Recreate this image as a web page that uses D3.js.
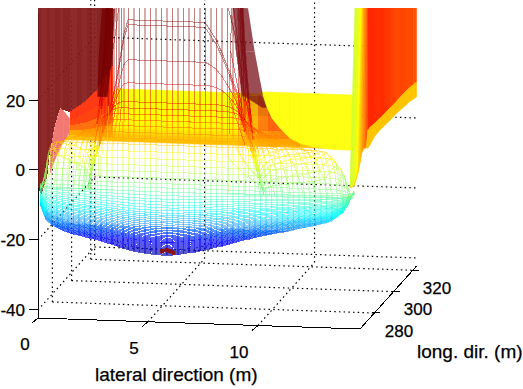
<!DOCTYPE html>
<html>
<head>
<meta charset="utf-8">
<script src="https://cdn.jsdelivr.net/npm/d3@7"></script>
<style>
html, body { margin: 0; background: #fff; }
text { font-family: "Liberation Sans", sans-serif; font-size: 17px; fill: #000; stroke: #000; stroke-width: 0.25; }
text.title { font-size: 19px; }
</style>
</head>
<body>
<svg id="chart" width="523" height="389"></svg>
<script>
// axis ticks
const lateralTicks = [0, 5, 10];
const longTicks = [280, 300, 320];
const heightTicks = [-40, -20, 0, 20];
const lateralRange = [0, 14.64];
const longRange = [265, 324];
const heightFloor = -42.3;
const heightTop = 33;

// mesh columns: lateral station at the foot and at the crest (m)
const columnBase = [0.1,0.35,0.6,0.85,1.1,1.35,1.6,1.85,2.1,2.35,2.6,2.85,3.1,3.35,3.6,3.85,4.1,4.35,4.6,4.85,5.1,5.35,5.6,5.85,6.1,6.35,6.6,6.85,7.1,7.35,7.6,7.85,8.1,8.35,8.6,8.85,9.1,9.35,9.6,9.85,10.1,10.35,10.6,10.85,11.1,11.35,11.6,11.85,12.1,12.35,12.6,12.85,13.1,13.35,13.6,13.85,14.1,14.35];
const columnTop = [2.27,2.38,2.49,2.6,2.71,2.82,2.93,3.04,3.15,3.25,3.36,3.47,3.58,3.69,3.8,3.91,4.1,4.35,4.6,4.85,5.1,5.35,5.6,5.85,6.1,6.35,6.6,6.85,7.1,7.35,7.6,7.85,8.1,8.35,8.6,8.85,9.1,9.18,9.24,9.29,9.35,9.4,9.45,9.51,9.56,9.62,9.67,9.73,9.78,9.84,9.89,9.95,10,10.05,10.11,10.16,10.22,10.27];
// rise of the bottom row above its lowest point, per column
const columnLow = [13.3,9.1,7.7,6.9,6.1,5.6,5.1,4.9,4.5,4.1,3.9,3.5,3,2.6,2.1,1.6,1.2,0.8,0.6,0.4,0.2,0.1,0,0,0.1,0.3,0.6,0.9,1.1,1.5,1.8,2.3,2.8,3.1,3.6,4.1,4.6,5.1,5.4,5.9,6.3,6.7,7,7.4,7.7,8,8.4,8.9,9.2,9.6,9.9,10.4,10.8,11.4,12.6,13.8,16.1,20.1];
// share of the shoulder drop each column takes on the upper rows
const columnHigh = [1,0.93,0.87,0.82,0.77,0.72,0.67,0.62,0.57,0.52,0.47,0.41,0.34,0.26,0.17,0.08,0,0,0,0,0,0,0,0,0,0,0,0,0,0,0,0.05,0.1,0.17,0.25,0.33,0.42,0.48,0.51,0.54,0.57,0.6,0.63,0.65,0.68,0.7,0.73,0.75,0.78,0.8,0.83,0.85,0.88,0.9,0.92,0.95,0.97,1];

// mesh rows: height at the centre line, then how each row bends
const rowHeight = [-23.1,-22.8,-22.5,-22.2,-21.9,-21.7,-21.4,-21.1,-20.8,-20.5,-20.2,-19.9,-19.6,-19.4,-19.1,-18.8,-18.5,-18.2,-17.8,-17.4,-16.9,-16.5,-16.1,-15.6,-15.1,-14.5,-13.9,-13.4,-12.8,-12.2,-11.7,-11.1,-10.4,-9.6,-8.8,-7.9,-7.1,-6.1,-5.1,-3.9,-2.7,-1.1,0.6,2.4,4.3,6.3,8.3,10,11.7,13.5,15.2,16.9,18.6,20.4,25.8,32.4,42.4,43.8,67.2,98.7,173,335.8];
const rowLow = [1,0.985,0.97,0.955,0.94,0.925,0.91,0.89,0.88,0.86,0.85,0.83,0.82,0.8,0.79,0.77,0.76,0.74,0.72,0.7,0.67,0.65,0.63,0.61,0.58,0.55,0.52,0.48,0.45,0.42,0.39,0.36,0.33,0.29,0.24,0.2,0.15,0.1,0.05,0,0,0,0,0,0,0,0,0,0,0,0,0,0,0,0,0,0,0,0,0,0,0];
const rowHigh = [0,0,0,0,0,0,0,0,0,0,0,0,0,0,0,0,0,0,0,0,0,0,0,0,0,0,0,0,0,0,0,0,0,0,0,0,0,0,0,0,-2.3,-3.9,-5.6,-7.4,-9.3,-11.3,-13.3,-15,-16.7,-18.5,-20.2,-21.9,-23.6,-25.4,-30.8,-37.4,-47.4,-48.8,-72.2,-103.7,-178,-340.8];
const rowShoulder = [40,40,40,40,40,40,40,40,40,40,40,40,40,40,40,40,40,40,40,40,40,40,40,40,40,40,40,40,40,40,40,40,40,40,40,40,40,40,40,40,40,40,40,40,40,40,40,14,10,8,6,5,4,3,1.8,1.3,1,1,1,1,1,1];
const rowSpread = [0,0,0,0,0,0,0,0,0,0,0,0,0,0,0,0,0,0,0,0,0,0,0,0,0,0,0,0,0,0,0,0,0,0,0,0,0,0,0,0,0.005,0.01,0.02,0.03,0.05,0.08,0.14,0.28,0.42,0.56,0.7,0.8,0.88,0.93,0.98,1,1,1,1,1.05,1.2,1.4];

// far sheet behind the mesh
const bandLong = [265,270,275,280,285,290,295,300,305,310,315,320,324];
const bandHeight = [9,8.7,8,7.2,6.6,6.2,6,5.9,5.8,5.7,5.6,5.5,5.4];
const bandLeft = [1.2,1.2,1.2,1.2,1.15,1.15,1.1,1.1,1.1,1.05,1.05,1,1];
const bandRight = [14.5,14.3,14.1,13.9,13.7,13.5,13.3,13,12.8,12.6,12.4,12.2,12];

// left wall stripes
const westLateral = [0,0.14,0.41,0.55,0.77,1,1.14,1.45,1.77,2,2.23,2.45,2.68,2.85,3.05,3.23,3.41];
const westFoot = [-4.9,-7.1,-2.2,5.8,13,17.9,17.4,16.9,18.4,19.4,20.5,22,23.4,25.3,27.2,29,30.7];

// red flare under the left wall
const flareLateral = [1.45,1.77,2,2.23,2.45,2.68,2.85,3.05,3.23,3.41];
const flareTop = [16.9,18.4,19.4,20.5,22,23.4,25.3,27.2,29,30.7];
const flareFoot = [10.5,10.2,10.1,10,10,10,10,10,10,10];
const flareLevels = [0, 0.35, 0.6, 0.8, 1];
const flareColors = ["#ff3a14", "#ff4412", "#ff7010", "#ffa800", "#ffd400"];
const ridgeLateral = [0.55,0.77,1,1.14,1.45];
const ridgeTop = [5.8,13,17.9,17.4,15];
const ridgeFoot = [-1,3,6,8,11];

// orange fan right of the centre
const fanLateral = [9.09,9.55,10,10.45,11,11.45,11.91];
const fanTop = [23.4,23.5,23.6,23.7,23.8,23.9,24];
const fanFoot = [8.5,8.6,8.7,8.8,8.9,9,9.1];
const fanLevels = [0, 0.4, 0.7, 0.85, 1];
const fanColors = ["#e03a10", "#ff4a10", "#ff7a08", "#ffa000", "#ffc400"];
const fanAlpha = [0.15, 0.4, 0.7, 0.85, 0.9, 0.9];

// dark bundles of columns on both shoulders: height, inner and outer edge
const rightBundleHeight = [48.3, 36, 23.4, 20];
const rightBundleInner = [8.86, 9, 9.27, 10.2];
const rightBundleOuter = [9.55, 9.85, 10.23, 10.4];
const leftBundleHeight = [46.8, 32, 21.5];
const leftBundleInner = [3.5, 3.35, 3.15];
const leftBundleOuter = [2.9, 2.75, 2.7];

// yellow apron right of the mesh
const apronLateral = [10.14,10.36,10.64,11,11.45,11.91,12.59,13.27,13.95,14.36];
const apronFoot = [23.6,20.8,17.1,14.3,11.6,10.2,9.2,8.8,8.7,8.8];
const apronTop = 24.5;

// right wall stripes
const eastLateral = [14.18,14.27,14.36,14.45,14.55,14.64,14.64,14.64,14.64,14.64,14.64,14.64,14.64,14.64,14.64,14.64,14.64,14.64,14.64,14.64,14.64];
const eastLong = [265,265,265,265,265,265,267,269.2,271.2,273.3,275.4,280.6,285.8,291,296.3,301.5,306.7,311.9,317.1,320.5,324];
const eastFoot = [-1.9,-1.8,-1.5,0.2,2.5,5.4,7.6,8.1,7.5,6.9,7.1,8.1,8.2,8,7.8,7.7,7.5,7.1,6.9,6.4,6];
const eastApron = [-1.9,-1.8,-1.5,0.2,2.5,5.4,7.6,8.1,7.5,12,12.2,11.8,11.6,11.4,11.3,11.1,11.2,11.1,10.9,10.6,10.3];
const eastLean = [0.32,0.32,0.3,0.28,0.25,0.2,0.15,0.1,0.05,0,0,0,0,0,0,0,0,0,0,0,0];
const eastLevel = [3,3.5,4.5,6,8,9.5,11,12.5,14,16,16.2,15.8,16,15.4,15,14.6,14.8,14.4,14.6,14.2,14.4];

// the small dark patch at the lowest point
const peakLateral = [5.65,5.85,6,6.15];
const peakHeight = [-22,-21.6,-21.9,-22.3];

// projection of the box
const lateralX = d3.scaleLinear().domain(lateralRange).range([38, 360]);
const lateralY = d3.scaleLinear().domain(lateralRange).range([0, 11]);
const longX = d3.scaleLinear().domain(longRange).range([0, 56.6]);
const longY = d3.scaleLinear().domain(longRange).range([0, -63]);
const heightY = d3.scaleLinear().domain([heightFloor, 20]).range([318, 100]);

const px = (x, y) => lateralX(x) + longX(y);
const py = (x, y, z) => heightY(z) + lateralY(x) + longY(y);
const y0 = longRange[0], y1 = longRange[1];
const x0 = lateralRange[0], x1 = lateralRange[1];

const jet = d3.scaleLinear()
	.domain([-24, -19, -10, -3, 6, 18, 35])
	.range(["#000090", "#0000ff", "#00ffff", "#80ff80", "#ffff00", "#ff0000", "#800000"])
	.clamp(true);

const svg = d3.select('#chart');
svg.append('defs').append('clipPath').attr('id', 'top-clip')
	.append('rect').attr('x', 0).attr('y', 8).attr('width', 523).attr('height', 381);

const quad = (a, b, c, d) => 'M' + [a, b, c, d].map(p => p.join(',')).join('L') + 'Z';

// dotted grid
const gridData = [];
const seg = (a, b) => gridData.push([px(a[0], a[1]), py(a[0], a[1], a[2]), px(b[0], b[1]), py(b[0], b[1], b[2])]);
lateralTicks.slice(1).forEach(t => {
	seg([t, y0, heightFloor], [t, y1, heightFloor]);
	seg([t, y1, heightFloor], [t, y1, heightTop]);
});
longTicks.forEach(t => {
	seg([x0, t, heightFloor], [x1, t, heightFloor]);
	seg([x0, t, heightFloor], [x0, t, heightTop]);
});
heightTicks.forEach(t => {
	seg([x0, y0, t], [x0, y1, t]);
	seg([x0, y1, t], [x1, y1, t]);
});
seg([x0, y1, heightFloor], [x0, y1, heightTop]);

svg.append('g').selectAll('line').data(gridData).join('line')
	.attr('x1', d => d[0]).attr('y1', d => d[1]).attr('x2', d => d[2]).attr('y2', d => d[3])
	.attr('stroke', '#000').attr('stroke-width', 1.2).attr('stroke-dasharray', '1.5,3.2');

// solid axes
const axisData = [];
const axisSeg = (a, b, c, d) => axisData.push([a, b, c, d]);
axisSeg(px(x0, y0), py(x0, y0, heightFloor), px(x1, y0), py(x1, y0, heightFloor));
axisSeg(px(x1, y0), py(x1, y0, heightFloor), px(x1, y1), py(x1, y1, heightFloor));
axisSeg(px(x0, y0), py(x0, y0, heightFloor), px(x0, y0), py(x0, y0, 45));
heightTicks.forEach(t => axisSeg(29, py(x0, y0, t), 38, py(x0, y0, t)));
lateralTicks.forEach(t => {
	const a = px(t, y0), b = py(t, y0, heightFloor);
	axisSeg(a, b, a - 6, b + 5);
});
longTicks.forEach(t => {
	const a = px(x1, t), b = py(x1, t, heightFloor);
	axisSeg(a - 2, b, a + 6, b);
});
svg.append('g').selectAll('line').data(axisData).join('line')
	.attr('x1', d => d[0]).attr('y1', d => d[1]).attr('x2', d => d[2]).attr('y2', d => d[3])
	.attr('stroke', '#000').attr('stroke-width', 1).attr('shape-rendering', 'crispEdges');

const plot = svg.append('g').attr('clip-path', 'url(#top-clip)');

// far sheet
const bandCells = [];
d3.range(bandLong.length - 1).forEach(r => {
	d3.range(14).forEach(i => {
		const u0 = i / 14, u1 = (i + 1) / 14;
		const at = (k, u) => {
			const x = bandLeft[k] + u * (bandRight[k] - bandLeft[k]);
			return [px(x, bandLong[k]), py(x, bandLong[k], bandHeight[k])];
		};
		bandCells.push({ d: quad(at(r, u0), at(r, u1), at(r + 1, u1), at(r + 1, u0)), z: bandHeight[r] });
	});
});
plot.append('g').selectAll('path').data(bandCells).join('path')
	.attr('d', d => d.d).attr('fill', d => jet(d.z)).attr('stroke', d => jet(d.z)).attr('stroke-width', 0.6);

// stacked colour strips between a top and a foot profile
const strips = (stations, top, foot, levels, colors, alpha) => {
	const cells = [];
	d3.range(stations.length - 1).forEach(i => {
		d3.range(levels.length - 1).forEach(k => {
			const h = (j, t) => top[j] + t * (foot[j] - top[j]);
			const pt = (j, t) => [px(stations[j], y0), py(stations[j], y0, h(j, t))];
			cells.push({
				d: quad(pt(i, levels[k]), pt(i + 1, levels[k]), pt(i + 1, levels[k + 1]), pt(i, levels[k + 1])),
				c: colors[k],
				o: alpha ? alpha[i] : 1
			});
		});
	});
	plot.append('g').selectAll('path').data(cells).join('path')
		.attr('d', d => d.d).attr('fill', d => d.c).attr('fill-opacity', d => d.o).attr('shape-rendering', 'crispEdges');
};
strips(flareLateral, flareTop, flareFoot, flareLevels, flareColors);
strips(fanLateral, fanTop, fanFoot, fanLevels, fanColors, fanAlpha);

// salmon ridge
plot.append('g').selectAll('path').data(d3.range(ridgeLateral.length - 1)).join('path')
	.attr('d', i => quad(
		[px(ridgeLateral[i], y0), py(ridgeLateral[i], y0, ridgeTop[i])],
		[px(ridgeLateral[i + 1], y0), py(ridgeLateral[i + 1], y0, ridgeTop[i + 1])],
		[px(ridgeLateral[i + 1], y0), py(ridgeLateral[i + 1], y0, ridgeFoot[i + 1])],
		[px(ridgeLateral[i], y0), py(ridgeLateral[i], y0, ridgeFoot[i])]))
	.attr('fill', '#f0605a').attr('fill-opacity', 0.85);

// left wall
plot.append('g').selectAll('path').data(d3.range(westLateral.length - 1)).join('path')
	.attr('d', i => quad(
		[px(westLateral[i], y0), py(westLateral[i], y0, westFoot[i])],
		[px(westLateral[i + 1], y0), py(westLateral[i + 1], y0, westFoot[i + 1])],
		[px(westLateral[i + 1], y0), py(westLateral[i + 1], y0, 70)],
		[px(westLateral[i], y0), py(westLateral[i], y0, 70)]))
	.attr('fill', i => i % 2 ? '#871a1a' : '#7e1414').attr('fill-opacity', 0.93)
	.attr('shape-rendering', 'crispEdges');

// wire mesh
const meshSegs = [];
const node = (r, c) => {
	const x = columnBase[c] + rowSpread[r] * (columnTop[c] - columnBase[c]);
	const z = rowHeight[r] + rowLow[r] * columnLow[c] + rowHigh[r] * Math.pow(columnHigh[c], rowShoulder[r]);
	return { sx: px(x, y0), sy: py(x, y0, z), z };
};
const deep = z => z < -15;
rowHeight.forEach((_, r) => {
	columnBase.forEach((_, c) => {
		const a = node(r, c);
		if (c < columnBase.length - 1) {
			const b = node(r, c + 1);
			const z = (a.z + b.z) / 2;
			meshSegs.push({ a, b, z, w: 1, o: deep(z) ? 0.65 : 0.45 });
		}
		if (r < rowHeight.length - 1) {
			const b = node(r + 1, c);
			const z = (a.z + b.z) / 2;
			meshSegs.push({ a, b, z, w: c % 2 ? 2 : 1, o: deep(z) ? 0.5 : (c % 2 ? 0.32 : 0.5) });
		}
	});
});
plot.append('g').attr('shape-rendering', 'crispEdges').selectAll('line').data(meshSegs).join('line')
	.attr('x1', d => d.a.sx).attr('y1', d => d.a.sy).attr('x2', d => d.b.sx).attr('y2', d => d.b.sy)
	.attr('stroke', d => jet(d.z)).attr('stroke-width', d => d.w).attr('stroke-opacity', d => d.o);

// yellow apron
plot.append('g').selectAll('path').data(d3.range(apronLateral.length - 1)).join('path')
	.attr('d', i => quad(
		[px(apronLateral[i], y0), py(apronLateral[i], y0, apronFoot[i])],
		[px(apronLateral[i + 1], y0), py(apronLateral[i + 1], y0, apronFoot[i + 1])],
		[px(apronLateral[i + 1], y0), py(apronLateral[i + 1], y0, apronTop)],
		[px(apronLateral[i], y0), py(apronLateral[i], y0, apronTop)]))
	.attr('fill', '#ffff14').attr('stroke', '#ffff14').attr('stroke-width', 0.6);

// dark bundles
const bundle = (heights, inner, outer, color, alpha) => {
	plot.append('g').selectAll('path').data(d3.range(heights.length - 1)).join('path')
		.attr('d', i => quad(
			[px(inner[i], y0), py(inner[i], y0, heights[i])],
			[px(outer[i], y0), py(outer[i], y0, heights[i])],
			[px(outer[i + 1], y0), py(outer[i + 1], y0, heights[i + 1])],
			[px(inner[i + 1], y0), py(inner[i + 1], y0, heights[i + 1])]))
		.attr('fill', color).attr('fill-opacity', alpha);
};
bundle(rightBundleHeight, rightBundleInner, rightBundleOuter, '#7a1018', 0.75);
bundle(leftBundleHeight, leftBundleInner, leftBundleOuter, '#740000', 0.8);

// right wall
const eastCells = [];
d3.range(eastLateral.length - 1).forEach(i => {
	const pt = (j, z, lean) => [px(eastLateral[j] + lean, eastLong[j]), py(eastLateral[j] + lean, eastLong[j], z)];
	eastCells.push({
		d: quad(pt(i, eastApron[i], 0), pt(i + 1, eastApron[i + 1], 0), pt(i + 1, 70, eastLean[i + 1]), pt(i, 70, eastLean[i])),
		c: jet(eastLevel[i])
	});
	eastCells.push({
		d: quad(pt(i, eastFoot[i], 0), pt(i + 1, eastFoot[i + 1], 0), pt(i + 1, eastApron[i + 1], 0), pt(i, eastApron[i], 0)),
		c: '#ffc400'
	});
});
plot.append('g').selectAll('path').data(eastCells).join('path')
	.attr('d', d => d.d).attr('fill', d => d.c).attr('stroke', d => d.c).attr('stroke-width', 0.5);

// dark patch at the lowest point
plot.append('g').selectAll('circle').data(peakLateral).join('circle')
	.attr('cx', d => px(d, y0)).attr('cy', (d, i) => py(d, y0, peakHeight[i]))
	.attr('r', 2.4).attr('fill', '#8b1010');

// tick labels
const labels = svg.append('g');
labels.selectAll('.z').data(heightTicks).join('text').attr('class', 'z')
	.attr('x', 25).attr('y', d => py(x0, y0, d) + 6.5).attr('text-anchor', 'end').text(d => d);
const lateralLabelPos = [[25, 350], [134, 354], [239, 358]];
labels.selectAll('.x').data(lateralTicks).join('text').attr('class', 'x')
	.attr('x', (d, i) => lateralLabelPos[i][0]).attr('y', (d, i) => lateralLabelPos[i][1])
	.attr('text-anchor', 'middle').text(d => d);
const longLabelPos = [[399, 337], [418, 315], [437, 294]];
labels.selectAll('.y').data(longTicks).join('text').attr('class', 'y')
	.attr('x', (d, i) => longLabelPos[i][0]).attr('y', (d, i) => longLabelPos[i][1])
	.attr('text-anchor', 'middle').text(d => d);
labels.append('text').attr('class', 'title').attr('x', 95).attr('y', 381).text('lateral direction (m)');
labels.append('text').attr('class', 'title').attr('x', 417).attr('y', 358).text('long. dir. (m)');
</script>
</body>
</html>
